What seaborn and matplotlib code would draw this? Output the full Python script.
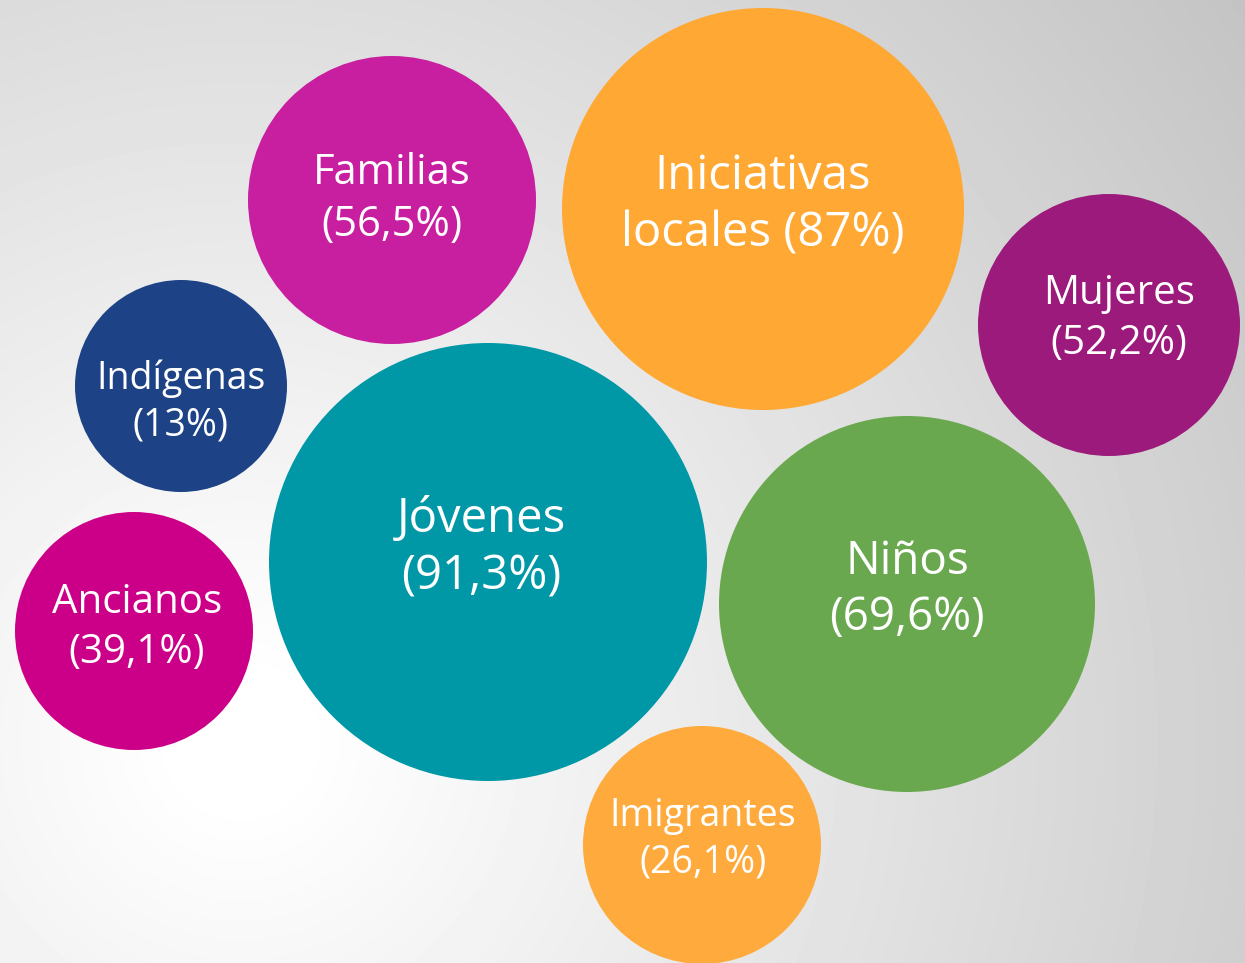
import numpy as np
import pandas as pd
import matplotlib
matplotlib.use("Agg")
import matplotlib.pyplot as plt
import seaborn as sns

# -------------------------------
# Data
# -------------------------------
groups = ["Familias", "Iniciativas\nlocales", "Mujeres", "Indígenas",
          "Jóvenes", "Niños", "Ancianos", "Imigrantes"]
percent = [56.5, 87, 52.2, 13, 91.3, 69.6, 39.1, 26.1]

# bubble layout (pixel coords of the original picture)
bubble_x = [392, 763, 1109, 181, 488, 907, 134, 702]
bubble_y = [200, 209, 325, 386, 562, 604, 631, 845]
bubble_r = [144, 201, 131, 106, 219, 188, 119, 119]
label_x = [392, 763, 1119, 181, 481, 907, 137, 703]
label_y = [199, 205, 319, 402, 548, 590, 628, 839]
label_size = [30, 34, 29, 27, 34, 33, 29, 27]

colors = ["#C71F9F", "#FFA833", "#9C1A7B", "#1D4386",
          "#0097A6", "#6AA84F", "#CC0088", "#FFAA3D"]

W, H = 1245, 963

df = pd.DataFrame({"group": groups, "pct": percent,
                   "x": bubble_x, "y": bubble_y, "r": bubble_r})
# marker area in pt^2 so the diameter matches 2*r pixels at 100 dpi
df["s"] = (2 * df["r"] * 0.72) ** 2


def make_label(name, v):
    txt = f"{v:g}".replace(".", ",")
    sep = " " if "\n" in name else "\n"
    return f"{name}{sep}({txt}%)"


# -------------------------------
# Figure
# -------------------------------
fig = plt.figure(figsize=(W / 100, H / 100), dpi=100)
ax = fig.add_axes([0, 0, 1, 1])

# radial grey background
yy, xx = np.mgrid[0:H, 0:W]
d = np.hypot(xx - 240, yy - 740)
shade = np.clip(255 - 0.05 * np.clip(d - 60, 0, None), 0, 255) / 255
ax.imshow(shade, cmap="gray", vmin=0, vmax=1, extent=(0, W, H, 0), zorder=0)

sns.scatterplot(data=df, x="x", y="y", hue="group",
                palette=dict(zip(groups, colors)), s=df["s"].values,
                linewidth=0, legend=False, ax=ax, zorder=2)

for name, v, lx, ly, fs in zip(groups, percent, label_x, label_y, label_size):
    ax.text(lx, ly, make_label(name, v), ha="center", va="center",
            color="white", fontsize=fs, family="Open Sans",
            linespacing=1.3, zorder=3)

ax.set_xlim(0, W)
ax.set_ylim(H, 0)
ax.set_aspect("equal")
ax.axis("off")

fig.savefig("out.png", dpi=100)
